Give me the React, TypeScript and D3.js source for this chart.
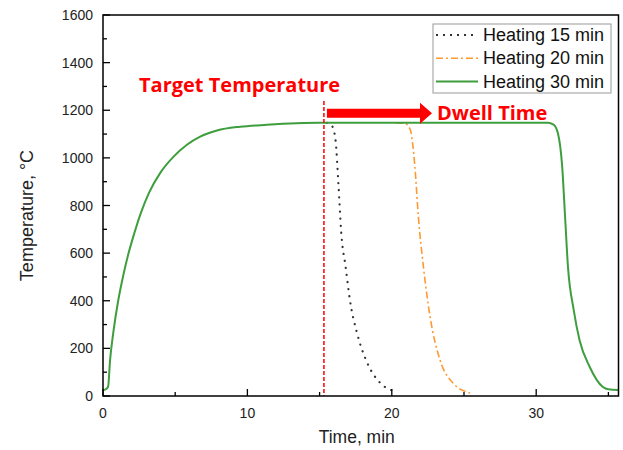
import React from "react";
import * as d3 from "d3";

const heat30Time = [0, 0.15, 0.35, 0.49, 0.71, 1.06, 1.41, 1.75, 2.15, 2.6, 3.2, 4.0, 4.89, 5.81, 6.73, 7.89, 9.5, 11.35, 13.4, 15, 20, 25, 30, 30.8, 31.2, 31.5, 31.8, 32.0, 32.2, 32.6, 33.0, 33.7, 34.6, 35.0, 35.7];
const heat30Temp = [25, 27, 38, 151, 265, 403, 508, 595, 680, 765, 855, 940, 1005, 1055, 1089, 1115, 1131, 1139, 1145, 1147, 1147, 1147, 1147, 1147, 1140, 1104, 963, 753, 543, 361, 235, 123, 39, 28, 25];

const heat15Time = [15.5, 15.85, 16.1, 16.3, 16.5, 16.8, 17.1, 17.6, 18.3, 19.2, 20.35];
const heat15Temp = [1147, 1135, 1076, 894, 685, 543, 403, 263, 139, 55, 18];

const heat20Time = [20.3, 20.9, 21.27, 21.6, 21.84, 22.19, 22.65, 23.34, 24.26, 25.42];
const heat20Temp = [1147, 1145, 1120, 963, 753, 543, 333, 151, 53, 13];

const xMajorTicks = [0, 10, 20, 30];
const xMinorTicks = [5, 15, 25, 35];
const yMajorTicks = [0, 200, 400, 600, 800, 1000, 1200, 1400, 1600];
const yMinorTicks = [100, 300, 500, 700, 900, 1100, 1300, 1500];

const legendLabels = ["Heating 15 min", "Heating 20 min", "Heating 30 min"];
const targetTime = 15.3;

const W = 623;
const H = 450;
const left = 103;
const right = 618.5;
const top = 15;
const bottom = 396;

export default function App() {
  const x = d3.scaleLinear().domain([0, 35.7]).range([left, right]);
  const y = d3.scaleLinear().domain([0, 1600]).range([bottom, top]);
  const line = d3
    .line<[number, number]>()
    .x((d) => x(d[0]))
    .y((d) => y(d[1]))
    .curve(d3.curveMonotoneX);
  const zip = (t: number[], v: number[]) => t.map((tt, i) => [tt, v[i]] as [number, number]);

  const font = "'Liberation Sans', Arial, sans-serif";
  const redFont = "'Open Sans', 'DejaVu Sans', sans-serif";
  const green = "#3e9e3e";
  const orange = "#ff9a33";
  const dark = "#333";
  const red = "#ff0000";

  const legendStyles = [
    { stroke: dark, dash: "2,5", width: 2, cap: "butt" },
    { stroke: orange, dash: "7,3,2,3", width: 1.6, cap: "butt" },
    { stroke: green, dash: "", width: 2, cap: "butt" },
  ];

  const arrowY = y(1147) - 9.5;

  return (
    <svg width={W} height={H} style={{ display: "block", position: "absolute", left: 0, top: 0 }}>
      <rect x={0} y={0} width={W} height={H} fill="#fff" />
      {/* curves */}
      <path d={line(zip(heat15Time, heat15Temp)) || ""} fill="none" stroke={dark} strokeWidth={2.2} strokeDasharray="0.1,7" strokeLinecap="round" />
      <path d={line(zip(heat20Time, heat20Temp)) || ""} fill="none" stroke={orange} strokeWidth={1.6} strokeDasharray="7,3,2,3" />
      <path d={line(zip(heat30Time, heat30Temp)) || ""} fill="none" stroke={green} strokeWidth={2} />

      {/* target line */}
      <line x1={x(targetTime)} x2={x(targetTime)} y1={101} y2={bottom} stroke={red} strokeWidth={1.5} strokeDasharray="4,2" />

      {/* arrow */}
      <path
        d={`M${x(targetTime) + 3},${arrowY - 4.5} L420,${arrowY - 4.5} L420,${arrowY - 10.5} L432,${arrowY} L420,${arrowY + 10.5} L420,${arrowY + 4.5} L${x(targetTime) + 3},${arrowY + 4.5} Z`}
        fill={red}
      />
      <text x={437} y={120} fontFamily={redFont} fontWeight="bold" fontSize={20} fill={red}>
        Dwell Time
      </text>
      <text x={139} y={92} fontFamily={redFont} fontWeight="bold" fontSize={20} fill={red}>
        Target Temperature
      </text>

      {/* frame */}
      <rect x={left} y={top} width={right - left} height={bottom - top} fill="none" stroke="#000" strokeWidth={1.5} />

      {/* x ticks */}
      {xMajorTicks.map((t) => (
        <g key={"xM" + t}>
          <line x1={x(t)} x2={x(t)} y1={bottom} y2={bottom - 7} stroke="#000" strokeWidth={1.3} />
          <text x={x(t)} y={418} textAnchor="middle" fontFamily={font} fontSize={14} fill="#222">
            {t}
          </text>
        </g>
      ))}
      {xMinorTicks.map((t) => (
        <line key={"xm" + t} x1={x(t)} x2={x(t)} y1={bottom} y2={bottom - 4} stroke="#000" strokeWidth={1.3} />
      ))}
      {/* y ticks */}
      {yMajorTicks.map((t) => (
        <g key={"yM" + t}>
          <line x1={left} x2={left + 7} y1={y(t)} y2={y(t)} stroke="#000" strokeWidth={1.3} />
          <text x={93} y={y(t) + 5} textAnchor="end" fontFamily={font} fontSize={14} fill="#222">
            {t}
          </text>
        </g>
      ))}
      {yMinorTicks.map((t) => (
        <line key={"ym" + t} x1={left} x2={left + 4} y1={y(t)} y2={y(t)} stroke="#000" strokeWidth={1.3} />
      ))}

      {/* axis titles */}
      <text x={(left + right) / 2 - 4} y={443} textAnchor="middle" fontFamily={font} fontSize={17.5} fill="#222">
        Time, min
      </text>
      <text
        transform={`translate(33, ${(top + bottom) / 2 + 10}) rotate(-90)`}
        textAnchor="middle"
        fontFamily={font}
        fontSize={18}
        fill="#222"
      >
        Temperature, °C
      </text>

      {/* legend */}
      <rect x={433} y={24} width={178} height={69} fill="#fff" stroke="#999" strokeWidth={1} />
      {legendLabels.map((lab, i) => {
        const ly = 35 + i * 23.3;
        const st = legendStyles[i];
        return (
          <g key={lab}>
            <line x1={436} x2={478} y1={ly} y2={ly} stroke={st.stroke} strokeWidth={st.width} strokeDasharray={st.dash} />
            <text x={483} y={ly + 6} fontFamily={font} fontSize={18} fill="#111">
              {lab}
            </text>
          </g>
        );
      })}
    </svg>
  );
}
